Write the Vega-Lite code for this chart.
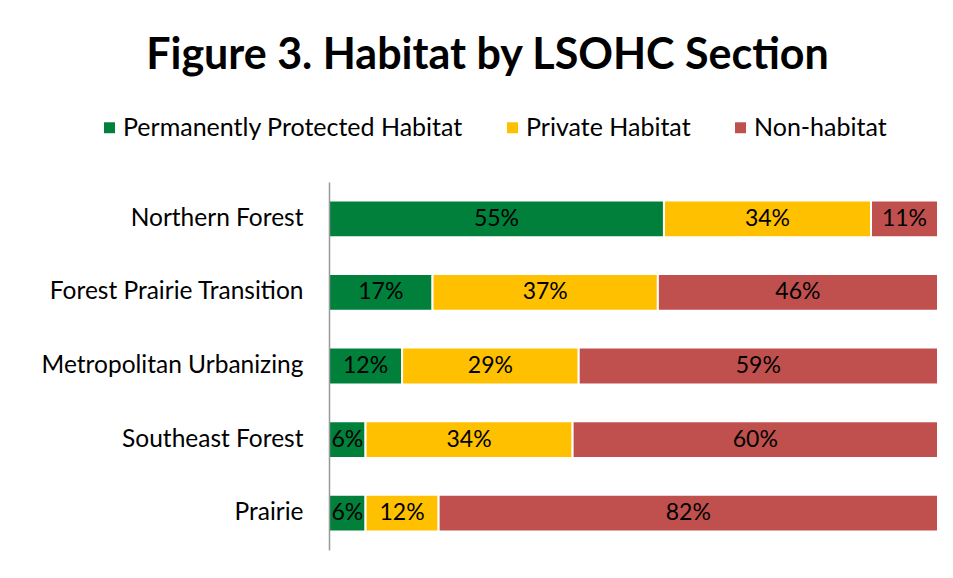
{
  "$schema": "https://vega.github.io/schema/vega-lite/v6.json",
  "width": 609,
  "height": 368,
  "autosize": {"type": "none"},
  "padding": {"left": 329, "top": 182, "right": 15, "bottom": 28},
  "background": "white",
  "title": {
    "text": "Figure 3. Habitat by LSOHC Section",
    "font": "Lato",
    "fontSize": 43,
    "fontWeight": "bold",
    "color": "black",
    "anchor": "middle",
    "frame": "group",
    "dx": -146,
    "baseline": "alphabetic",
    "offset": 3
  },
  "data": {
    "values": [
      {"section": "Northern Forest", "category": "Permanently Protected Habitat", "ord": 1, "value": 55},
      {"section": "Northern Forest", "category": "Private Habitat", "ord": 2, "value": 34},
      {"section": "Northern Forest", "category": "Non-habitat", "ord": 3, "value": 11},
      {"section": "Forest Prairie Transition", "category": "Permanently Protected Habitat", "ord": 1, "value": 17},
      {"section": "Forest Prairie Transition", "category": "Private Habitat", "ord": 2, "value": 37},
      {"section": "Forest Prairie Transition", "category": "Non-habitat", "ord": 3, "value": 46},
      {"section": "Metropolitan Urbanizing", "category": "Permanently Protected Habitat", "ord": 1, "value": 12},
      {"section": "Metropolitan Urbanizing", "category": "Private Habitat", "ord": 2, "value": 29},
      {"section": "Metropolitan Urbanizing", "category": "Non-habitat", "ord": 3, "value": 59},
      {"section": "Southeast Forest", "category": "Permanently Protected Habitat", "ord": 1, "value": 6},
      {"section": "Southeast Forest", "category": "Private Habitat", "ord": 2, "value": 34},
      {"section": "Southeast Forest", "category": "Non-habitat", "ord": 3, "value": 60},
      {"section": "Prairie", "category": "Permanently Protected Habitat", "ord": 1, "value": 6},
      {"section": "Prairie", "category": "Private Habitat", "ord": 2, "value": 12},
      {"section": "Prairie", "category": "Non-habitat", "ord": 3, "value": 82}
    ]
  },
  "transform": [
    {"stack": "value", "groupby": ["section"], "sort": [{"field": "ord", "order": "ascending"}], "as": ["v0", "v1"]},
    {"calculate": "(datum.v0 + datum.v1) / 2", "as": "mid"},
    {"calculate": "datum.value + '%'", "as": "label"}
  ],
  "encoding": {
    "y": {
      "field": "section",
      "type": "nominal",
      "sort": ["Northern Forest", "Forest Prairie Transition", "Metropolitan Urbanizing", "Southeast Forest", "Prairie"],
      "scale": {"paddingInner": 0.5, "paddingOuter": 0.25},
      "axis": {
        "title": null,
        "ticks": false,
        "labelPadding": 26,
        "labelFont": "Lato",
        "labelFontSize": 24.5,
        "labelColor": "black",
        "labelLimit": 400,
        "domainColor": "#999999",
        "domainWidth": 1.5,
        "zindex": 1
      }
    }
  },
  "layer": [
    {
      "mark": {"type": "bar", "stroke": "white", "strokeWidth": 2},
      "encoding": {
        "x": {"field": "v0", "type": "quantitative", "scale": {"domain": [0, 100], "nice": false}, "axis": null},
        "x2": {"field": "v1"},
        "color": {
          "field": "category",
          "type": "nominal",
          "scale": {
            "domain": ["Permanently Protected Habitat", "Private Habitat", "Non-habitat"],
            "range": ["#00803A", "#FFC000", "#C0504D"]
          },
          "legend": {
            "title": null,
            "orient": "none",
            "direction": "horizontal",
            "legendX": -232,
            "legendY": -67,
            "symbolType": "square",
            "symbolSize": 120,
            "symbolStrokeWidth": 0,
            "labelFont": "Lato",
            "labelFontSize": 25,
            "labelColor": "black",
            "labelLimit": 500,
            "labelOffset": 1,
            "columnPadding": 37
          }
        }
      }
    },
    {
      "mark": {"type": "text", "font": "Lato", "fontSize": 23, "color": "black", "align": "center", "baseline": "middle"},
      "encoding": {
        "x": {"field": "mid", "type": "quantitative", "scale": {"domain": [0, 100], "nice": false}},
        "text": {"field": "label"}
      }
    }
  ],
  "config": {
    "view": {"stroke": null},
    "axis": {"grid": false}
  }
}
